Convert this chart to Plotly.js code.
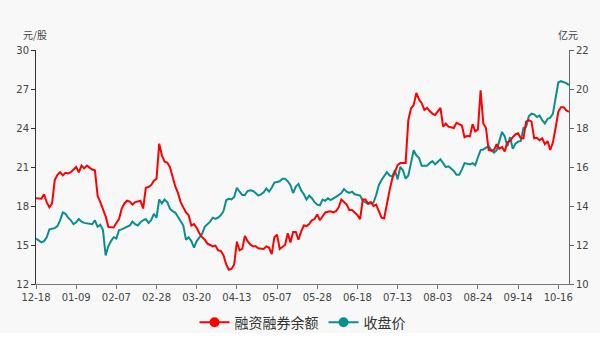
<!DOCTYPE html>
<html>
<head>
<meta charset="utf-8">
<script src="https://cdn.plot.ly/plotly-3.0.1.min.js"></script>
<style>
  html, body { margin: 0; padding: 0; background: #ffffff; }
  #chart { width: 600px; height: 333px; }
</style>
</head>
<body>
<div id="chart"></div>
<script>
// Trading dates (MM-DD)
const dates = [
  "12-18","12-19","12-20","12-23","12-24","12-25","12-26","12-27","12-30","12-31",
  "01-02","01-03","01-06","01-07","01-08","01-09","01-10","01-13","01-14","01-15",
  "01-16","01-17","01-20","01-21","01-22","01-23","02-03","02-04","02-05","02-06",
  "02-07","02-10","02-11","02-12","02-13","02-14","02-17","02-18","02-19","02-20",
  "02-21","02-24","02-25","02-26","02-27","02-28","03-02","03-03","03-04","03-05",
  "03-06","03-09","03-10","03-11","03-12","03-13","03-16","03-17","03-18","03-19",
  "03-20","03-23","03-24","03-25","03-26","03-27","03-30","03-31","04-01","04-02",
  "04-03","04-07","04-08","04-09","04-10","04-13","04-14","04-15","04-16","04-17",
  "04-20","04-21","04-22","04-23","04-24","04-27","04-28","04-29","04-30","05-06",
  "05-07","05-08","05-11","05-12","05-13","05-14","05-15","05-18","05-19","05-20",
  "05-21","05-22","05-25","05-26","05-27","05-28","05-29","06-01","06-02","06-03",
  "06-04","06-05","06-08","06-09","06-10","06-11","06-12","06-15","06-16","06-17",
  "06-18","06-19","06-22","06-23","06-24","06-29","06-30","07-01","07-02","07-03",
  "07-06","07-07","07-08","07-09","07-10","07-13","07-14","07-15","07-16","07-17",
  "07-20","07-21","07-22","07-23","07-24","07-27","07-28","07-29","07-30","07-31",
  "08-03","08-04","08-05","08-06","08-07","08-10","08-11","08-12","08-13","08-14",
  "08-17","08-18","08-19","08-20","08-21","08-24","08-25","08-26","08-27","08-28",
  "08-31","09-01","09-02","09-03","09-04","09-07","09-08","09-09","09-10","09-11",
  "09-14","09-15","09-16","09-17","09-18","09-21","09-22","09-23","09-24","09-25",
  "10-09","10-12","10-13","10-14","10-15","10-16","10-19","10-20","10-21","10-22"
];

// 融资融券余额 (亿元, right axis)
const marginBalance = [
  14.4,14.4,14.37,14.6,14.2,13.93,14.13,15.33,15.6,15.73,
  15.57,15.7,15.67,15.73,15.87,16.0,15.73,16.07,15.93,16.07,
  15.97,15.87,15.83,14.53,14.2,13.87,13.47,12.93,12.93,12.9,
  13.13,13.33,13.87,14.13,14.27,14.23,14.07,14.2,14.23,14.27,
  13.87,14.93,14.97,15.07,15.3,15.4,17.2,16.6,16.27,16.23,
  16.0,15.47,15.0,14.67,14.2,13.93,13.67,13.53,13.0,13.07,
  12.87,12.6,12.4,12.27,12.07,12.0,11.93,11.97,11.73,11.7,
  11.47,11.0,10.73,10.77,11.0,12.17,11.73,11.8,12.47,12.2,
  12.03,11.93,11.93,11.83,11.8,11.8,11.93,11.87,11.53,12.4,
  12.53,11.8,11.9,12.0,12.6,12.13,12.67,12.67,12.27,12.7,
  13.0,12.97,13.07,13.27,13.33,13.57,13.27,13.47,13.67,13.7,
  13.73,13.67,13.73,13.93,14.33,14.2,14.07,13.8,13.8,13.67,
  13.53,13.33,14.33,14.33,14.13,14.2,14.0,14.07,13.73,13.4,
  13.37,14.2,14.8,15.4,15.73,16.1,16.2,16.2,16.2,18.4,
  19.0,19.17,19.8,19.47,19.27,18.93,19.03,18.87,18.73,18.67,
  18.87,19.03,18.07,18.23,18.07,18.03,18.0,18.27,18.2,18.13,
  17.53,17.6,17.57,18.2,17.83,17.93,19.93,18.23,18.0,16.87,
  16.83,16.87,17.17,16.93,17.03,16.8,17.27,17.33,17.53,17.67,
  17.73,17.47,17.47,18.33,18.4,18.33,17.47,17.5,17.37,17.47,
  17.17,17.33,16.87,17.27,18.0,18.83,19.07,19.07,18.9,18.83
];

// 收盘价 (元/股, left axis)
const closePrice = [
  15.5,15.35,15.2,15.3,15.6,16.2,16.25,16.3,16.45,16.9,
  17.5,17.4,17.1,16.9,16.6,16.75,17.0,16.8,16.7,16.65,
  16.6,16.6,16.9,16.4,16.55,16.15,14.2,14.9,15.3,15.6,
  15.5,16.15,16.2,16.3,16.4,16.5,16.8,16.6,16.5,16.75,
  16.9,17.0,16.7,16.9,17.4,17.1,18.5,18.2,18.5,18.3,
  17.8,17.6,17.5,17.2,16.9,16.5,15.4,15.6,15.3,14.8,
  15.3,15.6,15.85,16.4,16.6,16.8,17.1,17.0,17.1,17.3,
  17.6,18.45,18.55,18.5,18.7,19.4,19.1,18.85,18.85,19.15,
  19.2,19.15,19.0,18.8,18.9,19.05,19.35,19.1,19.4,19.8,
  19.85,19.9,20.1,20.1,19.9,19.6,19.0,19.5,19.7,19.2,
  18.9,18.5,18.8,18.6,18.3,18.1,18.05,18.5,18.4,18.6,
  18.45,18.55,18.7,18.85,19.0,19.3,19.1,19.0,19.1,18.9,
  18.85,18.8,18.4,18.25,18.15,18.2,18.25,18.85,19.6,20.0,
  20.3,20.6,20.35,20.25,20.75,20.05,21.0,20.75,20.1,20.35,
  21.3,22.3,21.9,21.7,21.1,21.1,21.1,21.3,21.45,21.2,
  21.4,21.6,21.3,21.0,21.05,20.9,20.7,20.4,20.4,20.8,
  21.3,21.25,21.2,21.3,21.15,21.75,22.3,22.35,22.5,22.6,
  22.3,22.1,22.3,23.1,23.7,23.35,22.6,23.3,22.4,22.8,
  22.95,23.0,24.0,24.1,24.9,25.1,25.05,24.85,24.95,24.6,
  24.35,24.7,24.8,25.1,26.2,27.5,27.6,27.55,27.45,27.3
];

const seriesNames = ["融资融券余额", "收盘价"];
const seriesColors = ["#ff0000", "#0a8f8f"];
const leftUnit = "元/股";
const rightUnit = "亿元";
const tickStep = 15;

const tickVals = dates.filter((d, i) => i % tickStep === 0);

const tickFont = { family: "DejaVu Sans, sans-serif", size: 10, color: "#444" };
const cjk = "Noto Sans CJK SC, sans-serif";

const traces = [
  {
    x: dates, y: marginBalance, yaxis: "y2", type: "scatter", mode: "lines",
    name: seriesNames[0], line: { color: seriesColors[0], width: 2 },
    showlegend: false, hoverinfo: "x+y"
  },
  {
    x: dates, y: closePrice, yaxis: "y", type: "scatter", mode: "lines",
    name: seriesNames[1], line: { color: seriesColors[1], width: 2 },
    showlegend: false, hoverinfo: "x+y"
  },
  {
    x: [null], y: [null], type: "scatter", mode: "lines+markers",
    name: seriesNames[0], line: { color: seriesColors[0], width: 2 },
    marker: { color: seriesColors[0], size: 10 }, showlegend: true
  },
  {
    x: [null], y: [null], type: "scatter", mode: "lines+markers",
    name: seriesNames[1], line: { color: seriesColors[1], width: 2 },
    marker: { color: seriesColors[1], size: 10 }, showlegend: true
  }
];

const layout = {
  width: 600, height: 333,
  margin: { l: 36, r: 31, t: 50, b: 49, autoexpand: false },
  paper_bgcolor: "#f8f8f8", plot_bgcolor: "#f8f8f8",
  showlegend: true,
  xaxis: {
    type: "category", range: [0, dates.length - 1],
    tickmode: "array", tickvals: tickVals, ticktext: tickVals,
    showline: true, linecolor: "#777", linewidth: 1,
    ticks: "outside", ticklen: 4, tickcolor: "#777",
    showgrid: false, zeroline: false, tickfont: tickFont, fixedrange: true
  },
  yaxis: {
    range: [12, 30], tick0: 12, dtick: 3,
    showline: true, linecolor: "#333", linewidth: 1,
    ticks: "outside", ticklen: 4, tickcolor: "#333",
    showgrid: false, zeroline: false, tickfont: tickFont, fixedrange: true
  },
  yaxis2: {
    overlaying: "y", side: "right", range: [10, 22], tick0: 10, dtick: 2,
    showline: true, linecolor: "#666", linewidth: 1,
    ticks: "outside", ticklen: 4, tickcolor: "#666",
    showgrid: false, zeroline: false, tickfont: tickFont, fixedrange: true
  },
  annotations: [
    { text: leftUnit, xref: "paper", yref: "paper", x: -0.002, y: 1.068,
      xanchor: "center", yanchor: "middle", showarrow: false,
      font: { family: cjk, size: 10, color: "#444" } },
    { text: rightUnit, xref: "paper", yref: "paper", x: 0.998, y: 1.068,
      xanchor: "center", yanchor: "middle", showarrow: false,
      font: { family: cjk, size: 10, color: "#444" } }
  ],
  legend: {
    orientation: "h", x: 0.5, xanchor: "center", y: -0.165, yanchor: "middle",
    bgcolor: "rgba(0,0,0,0)", font: { family: cjk, size: 14, color: "#333" },
    itemwidth: 30, traceorder: "normal"
  }
};

Plotly.newPlot("chart", traces, layout, { displayModeBar: false, staticPlot: true });
</script>
</body>
</html>
